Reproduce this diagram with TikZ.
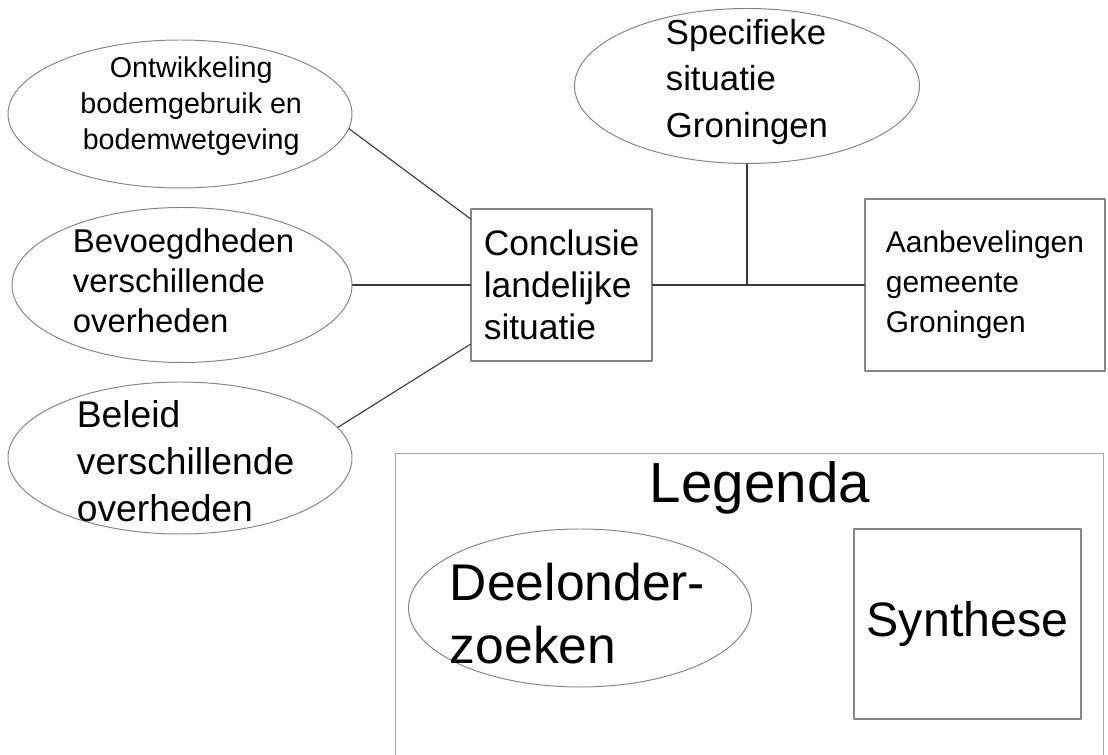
\documentclass[tikz,border=0pt]{standalone}
\usepackage{fontspec}
\setmainfont{Liberation Sans}
\usepackage{tikz}
\usepackage{xcolor}
\usetikzlibrary{shapes.geometric}

\definecolor{shapegray}{HTML}{858585}
\definecolor{framegray}{HTML}{A8A8A8}
\definecolor{linegray}{HTML}{3A3A3A}

\begin{document}
\begin{tikzpicture}[scale=1.0, line cap=round, line join=round,
    bubble/.style={draw=shapegray, line width=0.7pt, ellipse, inner sep=0pt},
    block/.style={draw=shapegray, line width=0.9pt, rectangle, inner sep=0pt, align=left},
    txt/.style={inner sep=0pt, align=left},
    link/.style={draw=linegray, line width=0.8pt}]
  \useasboundingbox (0,0) rectangle (27.7,18.875);

  % deelonderzoeken
  \node[bubble, minimum width=8.6cm, minimum height=3.7cm] (ontw) at (4.5,16.025) {};
  \node[txt, align=center, font=\fontsize{20.4}{25.6}\selectfont] (ontw-txt) at (4.78,16.225)
    {Ontwikkeling\\bodemgebruik en\\bodemwetgeving};

  \node[bubble, minimum width=8.5cm, minimum height=3.875cm] (bevoeg) at (4.55,11.75) {};
  \node[txt, font=\fontsize{23.4}{28.5}\selectfont] (bevoeg-txt) at (4.59,11.85)
    {Bevoegdheden\\verschillende\\overheden};

  \node[bubble, minimum width=8.6cm, minimum height=3.8cm] (beleid) at (4.5,7.425) {};
  \node[txt, font=\fontsize{26.5}{33.4}\selectfont] (beleid-txt) at (4.64,7.35)
    {Beleid\\verschillende\\overheden};

  \node[bubble, minimum width=8.625cm, minimum height=3.875cm] (specifiek) at (18.675,16.725) {};
  \node[txt, font=\fontsize{24.7}{33.4}\selectfont] (specifiek-txt) at (18.675,16.825)
    {Specifieke\\situatie\\Groningen};

  % synthese
  \node[block, minimum width=4.525cm, minimum height=3.8cm, font=\fontsize{25.2}{29.9}\selectfont]
    (conclusie) at (14.04,11.75) {Conclusie\\landelijke\\situatie};
  \node[block, minimum width=6.0cm, minimum height=4.3cm, font=\fontsize{21.3}{28.5}\selectfont]
    (aanbev) at (24.625,11.75) {Aanbevelingen\\gemeente\\Groningen};

  \draw[link] (ontw.-5) -- (conclusie.144);
  \draw[link] (bevoeg.east) -- (conclusie.west);
  \draw[link] (beleid.11) -- (conclusie.213);
  \draw[link] (conclusie.east) -- (aanbev.west);
  \coordinate (junction) at (specifiek.south |- conclusie.east);
  \draw[link] (specifiek.south) -- (junction);

  % legenda
  \draw[framegray, line width=0.7pt] (9.875,0) -- (9.875,7.55) -- (27.575,7.55) -- (27.575,0);
  \node[txt, anchor=base, font=\fontsize{40.2}{48}\selectfont] (legenda) at (19.0,6.3) {Legenda};
  \node[bubble, minimum width=8.575cm, minimum height=3.95cm] (deel) at (14.5,3.675) {};
  \node[txt, font=\fontsize{36.7}{44.8}\selectfont] (deel-txt) at (14.44,3.525)
    {Deelonder-\\zoeken};
  \node[block, minimum width=5.675cm, minimum height=4.75cm, font=\fontsize{34.4}{40}\selectfont]
    (synthese) at (24.1875,3.275) {Synthese};
\end{tikzpicture}
\end{document}
